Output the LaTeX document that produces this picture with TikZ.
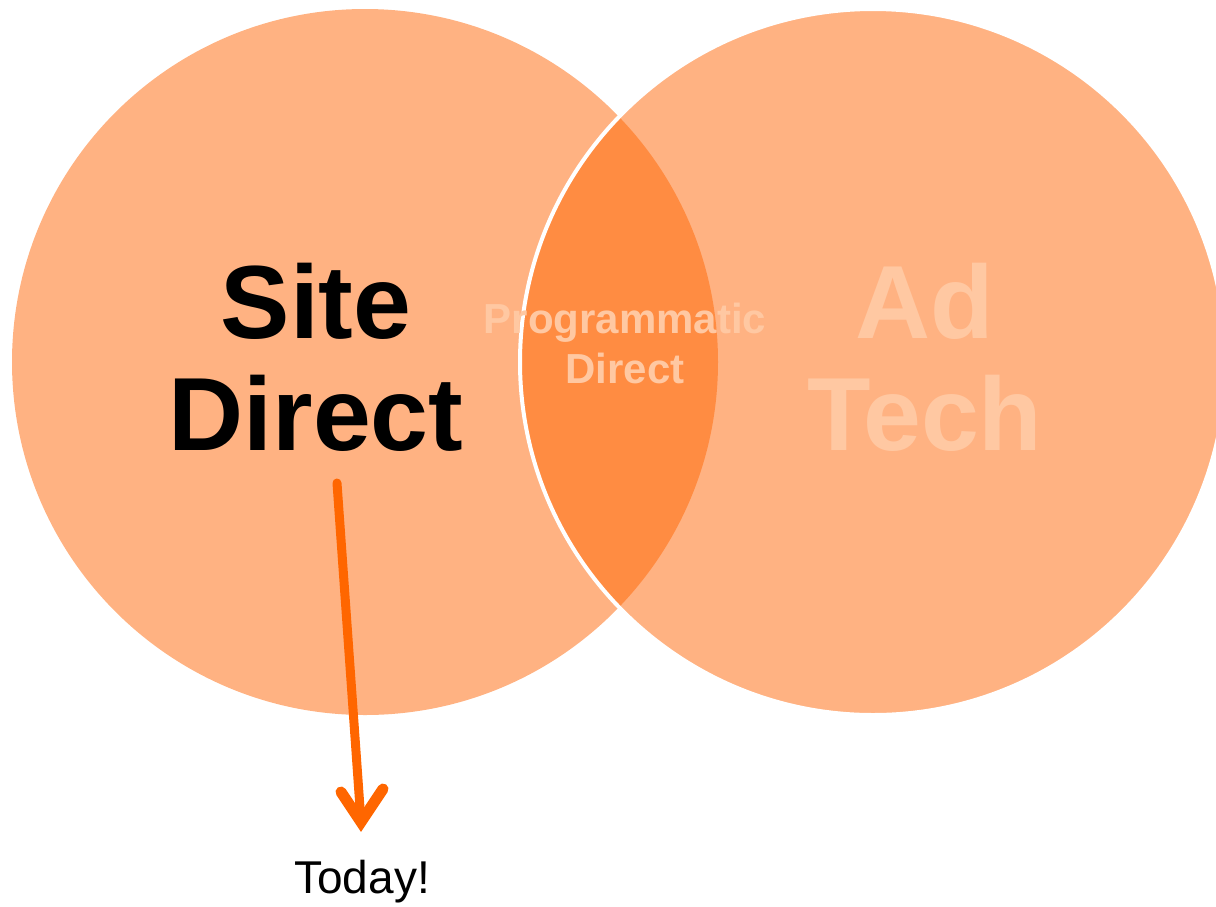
\documentclass[tikz,border=0pt]{standalone}
\usepackage{fontspec}
\setmainfont{Liberation Sans}
\usetikzlibrary{arrows.meta,calc}
\definecolor{circ}{HTML}{FFB282}
\definecolor{lens}{HTML}{FF8C42}
\definecolor{pale}{HTML}{FFC8A2}
\definecolor{arrowc}{HTML}{FF6600}
\begin{document}
\begin{tikzpicture}[x=1pt,y=-1pt,
  bigtext/.style={font=\fontsize{104}{112}\selectfont\bfseries, align=center, inner sep=0pt},
  midtext/.style={font=\fontsize{42}{50}\selectfont\bfseries, align=center, inner sep=0pt, text=pale},
  smalltext/.style={font=\fontsize{46}{50}\selectfont, inner sep=0pt},
  pointer/.style={arrowc, line width=9pt, line cap=round},
  pointerhead/.style={arrowc, line width=11pt, line cap=round, line join=miter, miter limit=10}]
\useasboundingbox (0,0) rectangle (1216,906);
\clip (0,0) rectangle (1216,906);
\fill[circ] (365,362) circle (353pt);
\fill[circ] (873,362) circle (353pt);
\begin{scope}
  \clip (365,362) circle (353pt);
  \fill[lens] (873,362) circle (353pt);
\end{scope}
\draw[white, line width=4pt] (873,362) circle (353pt);
\node[bigtext, anchor=base] (site) at (316,450) {Site\\Direct};
\node[bigtext, text=pale, anchor=base] (adtech) at (925,450) {Ad\\Tech};
\node[midtext, anchor=base] (prog) at (625,383) {Programmatic\\Direct};
\node[smalltext, anchor=base] (today) at (362,893) {Today!};
\coordinate (s) at (337,483);
\coordinate (t) at (361,822);
\draw[pointer] (s) -- (t);
\draw[pointerhead] ($(t)+(-20,-30)$) -- (t) -- ($(t)+(22,-33)$);
\end{tikzpicture}
\end{document}
